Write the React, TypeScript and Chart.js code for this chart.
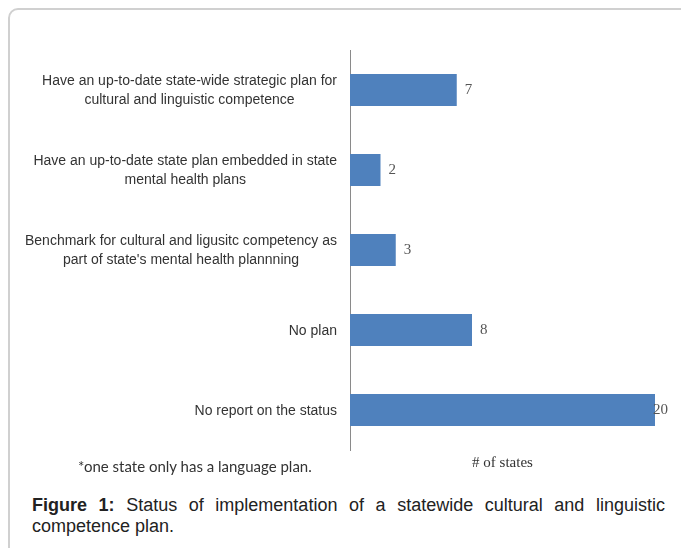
import React, { useEffect, useRef } from "react";
import { Chart, registerables } from "chart.js";

Chart.register(...registerables);

// ---- data ----
const categories: string[][] = [
  ["Have an up-to-date state-wide strategic plan for", "cultural and linguistic competence"],
  ["Have an up-to-date state plan embedded in state", "mental health plans"],
  ["Benchmark for cultural and ligusitc competency as", "part of state's mental health plannning"],
  ["No plan"],
  ["No report on the status"],
];
const stateCounts = [7, 2, 3, 8, 20];
const valueAxisMin = 0;
const valueAxisMax = 20;
const valueAxisTitle = "# of states";
const footnote = "*one state only has a language plan.";
const captionLabel = "Figure 1:";
const captionText =
  "Status of implementation of a statewide cultural and linguistic competence plan.";

const sideLabelsPlugin = {
  id: "sideLabels",
  afterDraw(chart: any) {
    const { ctx, chartArea } = chart;
    const yScale = chart.scales.y;
    ctx.save();
    // category labels: block right-aligned, lines centred within block
    ctx.font = '14px "Liberation Sans", Arial, sans-serif';
    ctx.fillStyle = "#333333";
    ctx.textAlign = "center";
    ctx.textBaseline = "middle";
    const right = chartArea.left - 13;
    const lh = 19;
    categories.forEach((lines, i) => {
      const yc = yScale.getPixelForTick(i) + 1;
      const maxW = Math.max(...lines.map((l) => ctx.measureText(l).width));
      const cx = right - maxW / 2;
      lines.forEach((l, j) => {
        ctx.fillText(l, cx, yc + (j - (lines.length - 1) / 2) * lh);
      });
    });
    // value labels
    ctx.font = '15px "Liberation Serif", "Times New Roman", serif';
    ctx.fillStyle = "#555555";
    ctx.textAlign = "left";
    const meta = chart.getDatasetMeta(0);
    meta.data.forEach((bar: any, i: number) => {
      const txt = String(stateCounts[i]);
      const w = ctx.measureText(txt).width;
      const x = Math.min(bar.x + 8, chart.width - 13 - w);
      ctx.fillText(txt, x, bar.y);
    });
    ctx.restore();
  },
};

function BarChart() {
  const ref = useRef<HTMLCanvasElement | null>(null);
  useEffect(() => {
    if (!ref.current) return;
    const chart = new Chart(ref.current, {
      type: "bar",
      data: {
        labels: categories.map((c) => c.join(" ")),
        datasets: [
          {
            data: stateCounts,
            backgroundColor: "#4F81BD",
            borderWidth: 0,
            barPercentage: 0.5,
            categoryPercentage: 0.8,
          },
        ],
      },
      options: {
        indexAxis: "y",
        responsive: false,
        animation: false,
        layout: { padding: { left: 350, top: 50, right: 26, bottom: 4 } },
        plugins: { legend: { display: false }, tooltip: { enabled: false } },
        scales: {
          x: {
            min: valueAxisMin,
            max: valueAxisMax,
            grid: { display: false, drawTicks: false },
            border: { display: false },
            ticks: { display: false },
            title: {
              display: true,
              text: valueAxisTitle,
              color: "#333333",
              font: { family: '"Liberation Serif", "Times New Roman", serif', size: 15 },
              padding: { top: 4, bottom: 4 },
            },
          },
          y: {
            grid: { display: false, drawTicks: false },
            ticks: { display: false },
            border: { display: true, color: "#8a8a8a", width: 1 },
          },
        },
      },
      plugins: [sideLabelsPlugin],
    } as any);
    return () => chart.destroy();
  }, []);
  return (
    <canvas
      ref={ref}
      width={681}
      height={480}
      style={{ position: "absolute", left: 0, top: 0, display: "block" }}
    />
  );
}

export default function App() {
  return (
    <div
      style={{
        position: "fixed",
        left: 0,
        top: 0,
        width: 681,
        height: 548,
        overflow: "hidden",
        background: "#ffffff",
      }}
    >
      <div
        style={{
          position: "absolute",
          left: 8,
          top: 8,
          width: 720,
          height: 620,
          border: "2px solid #d0d0d0",
          borderRadius: 10,
          boxSizing: "border-box",
        }}
      />
      <BarChart />
      <div
        style={{
          position: "absolute",
          left: 78,
          top: 457,
          font: '15px Lato, "Open Sans", sans-serif',
          lineHeight: "18px",
          color: "#333333",
          whiteSpace: "nowrap",
        }}
      >
        {footnote}
      </div>
      <div
        style={{
          position: "absolute",
          left: 32,
          top: 495,
          width: 633,
          font: '18px "Liberation Sans", Arial, sans-serif',
          lineHeight: "21px",
          textAlign: "justify",
          color: "#222222",
        }}
      >
        <b>{captionLabel}</b> {captionText}
      </div>
    </div>
  );
}
